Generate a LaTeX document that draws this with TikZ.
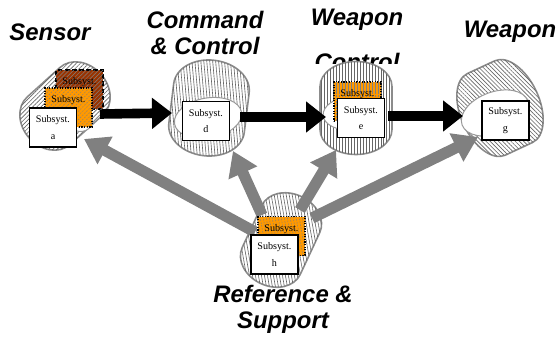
\documentclass[tikz,border=0pt]{standalone}
\usepackage{fontspec}
\setmainfont{Liberation Serif}
\setsansfont{Liberation Sans}
\usetikzlibrary{positioning,calc,arrows.meta,patterns.meta}
\definecolor{subsorange}{HTML}{FF9900}
\definecolor{subsbrown}{HTML}{993300}
\definecolor{linkgray}{HTML}{808080}

% hatched tube: centre, angle, half length, half width, cap radius, hatch angle
\newcommand{\cyl}[6]{%
  \begin{scope}[shift={(#1)},rotate=#2]
    \draw[tube=#6] (-#3,-#4) -- (#3,-#4)
      arc[start angle=-90,end angle=90,x radius=#5,y radius=#4]
      -- (-#3,#4)
      arc[start angle=90,end angle=270,x radius=#5,y radius=#4] -- cycle;
  \end{scope}}

\begin{document}
\begin{tikzpicture}[x=0.25mm,y=-0.25mm,
    title/.style={font=\sffamily\bfseries\itshape\fontsize{17}{18.3}\selectfont,align=center},
    tube/.style={draw=gray!90,line width=0.4mm,fill=white,
      postaction={pattern={Lines[angle=#1,distance=2.1pt,line width=0.45pt]},pattern color=black!60}},
    opening/.style={draw=gray!80,line width=0.25mm,fill=white},
    subsys/.style={draw,line width=0.4mm,fill=white,minimum width=11.75mm,minimum height=9.75mm,
      inner sep=0pt,align=center,font=\fontsize{7.2}{12}\selectfont},
    subsback/.style={subsys,fill=subsorange,line width=0.3mm,densely dotted,
      postaction={pattern={Lines[angle=#1,distance=2.1pt,line width=0.35pt]},pattern color=black!50}},
    subsfar/.style={subsback=#1,fill=subsbrown,densely dashed},
    flow/.style={line width=2.4mm,-{Triangle[length=5mm,width=7.5mm]}},
    link/.style={linkgray,line width=2.8mm,-{Triangle[length=6mm,width=7.5mm]}}]
\useasboundingbox (0,0) rectangle (560,340);

% titles
\node[title] (tsensor) at (50,32) {Sensor};
\node[title] (tcc) at (205,33) {Command\\\& Control};
\node[title] (twc) at (357,20) {Weapon};
\begin{scope}
  \clip (300,40) rectangle (420,63);
  \node[title] (twc2) at (357,62) {Control};
\end{scope}
\node[title] (tweapon) at (510,32) {Weapon};
\node[title] (tref) at (283,309) {Reference \&\\Support};

% tubes
\cyl{65,106}{42}{22}{32}{26}{45}
\draw[opening,shift={(72,110)},rotate=42] (0,0) ellipse [x radius=16,y radius=25];
\cyl{209,108}{83}{20}{38}{28}{95}
\draw[opening,shift={(208,118)},rotate=10] (0,0) ellipse [x radius=34,y radius=20];
\cyl{356,108}{90}{21.5}{36}{25}{90}
\draw[opening,shift={(352,113)},rotate=5] (0,0) ellipse [x radius=29,y radius=17];
\cyl{500,108}{25}{15}{45}{25}{135}
\draw[opening,shift={(495,113)},rotate=20] (0,0) ellipse [x radius=35,y radius=21];
\cyl{281,240}{65}{23}{32}{25}{100}

% arrow ends
\coordinate (a-out) at (100,114);
\coordinate (d-in) at (172,113);
\coordinate (d-out) at (240,117);
\coordinate (e-in) at (326,117);
\coordinate (e-out) at (388,116);
\coordinate (g-in) at (463,116);
\coordinate (h-a) at (255,232);
\coordinate (h-d) at (262,215);
\coordinate (h-e) at (300,210);
\coordinate (h-g) at (312,218);
\coordinate (a-back) at (84,139);
\coordinate (d-back) at (233,151);
\coordinate (e-back) at (336,150);
\coordinate (g-back) at (478,137);

\draw[flow] (a-out) -- (d-in);
\draw[flow] (d-out) -- (e-in);
\draw[flow] (e-out) -- (g-in);

\draw[link] (h-a) -- (a-back);
\draw[link] (h-d) -- (d-back);
\draw[link] (h-e) -- (e-back);
\draw[link] (h-g) -- (g-back);

% subsystems
\node[subsfar=45] (c) at (79.5,89.5) {Subsyst.\\~};
\node[subsback=45] (b) at (68.5,107.5) {Subsyst.\\~};
\node[subsys] (a) at (53,127.5) {Subsyst.\\a};
\node[subsys] (d) at (206,121) {Subsyst.\\d};
\node[subsback=90] (f) at (357.5,101.5) {Subsyst.\\~};
\node[subsys] (e) at (361,118) {Subsyst.\\e};
\node[subsys] (g) at (505.5,120.5) {Subsyst.\\g};
\node[subsback=100] (i) at (281.5,236) {Subsyst.\\~};
\node[subsys] (h) at (274.5,254.5) {Subsyst.\\h};
\end{tikzpicture}
\end{document}
